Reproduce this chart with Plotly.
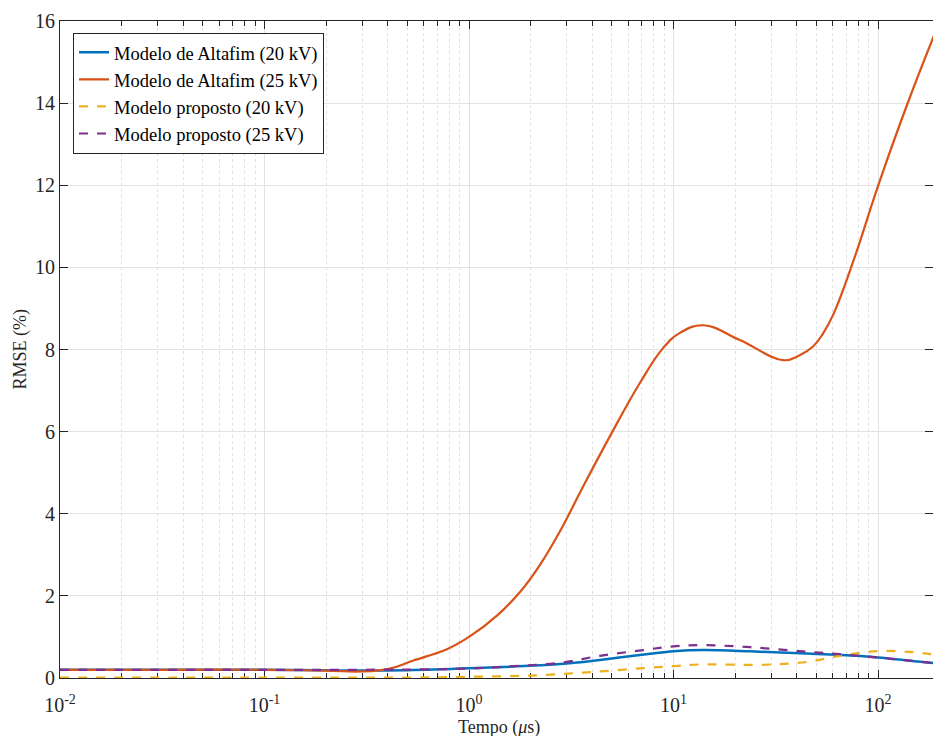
import plotly.graph_objects as go

# Altafim model (20 kV)
t_alt20 = [0.01, 0.1, 0.2, 0.3, 0.5, 1.0, 1.65, 2.79, 4.37, 7.7, 10, 14, 23.7, 41.6, 78.7, 100, 188]
y_alt20 = [0.20, 0.20, 0.19, 0.18, 0.19, 0.235, 0.28, 0.34, 0.44, 0.59, 0.65, 0.68, 0.65, 0.60, 0.54, 0.50, 0.36]

# Altafim model (25 kV)
t_alt25 = [0.01, 0.03, 0.1, 0.2, 0.3, 0.41, 0.53, 0.78, 1.0, 1.37, 1.78, 2.22, 2.79, 3.62, 4.99,
           6.86, 8.91, 10.8, 14, 21.1, 34.4, 41, 48.3, 54, 60.4, 75.7, 100, 138, 188]
y_alt25 = [0.20, 0.20, 0.20, 0.18, 0.16, 0.23, 0.42, 0.70, 1.00, 1.52, 2.10, 2.75, 3.58, 4.67, 5.97,
           7.19, 8.04, 8.41, 8.59, 8.23, 7.74, 7.85, 8.08, 8.40, 8.85, 10.15, 11.98, 13.93, 15.65]

# Proposed model (20 kV)
t_prop20 = [0.01, 0.1, 0.5, 1.0, 2.0, 3.6, 4.4, 7.1, 10, 13.5, 26.5, 38.5, 46.5, 54, 65, 75.6, 91, 106, 148, 188]
y_prop20 = [0.01, 0.01, 0.01, 0.03, 0.06, 0.13, 0.16, 0.24, 0.29, 0.33, 0.32, 0.36, 0.40, 0.46, 0.54, 0.59,
            0.64, 0.66, 0.63, 0.57]

# Proposed model (25 kV)
t_prop25 = [0.01, 0.1, 0.3, 1.0, 1.65, 2.79, 4.37, 7.1, 10, 14, 23.7, 44.8, 65, 100, 188]
y_prop25 = [0.20, 0.20, 0.20, 0.23, 0.29, 0.37, 0.54, 0.68, 0.77, 0.80, 0.75, 0.64, 0.58, 0.50, 0.36]

names = ["Modelo de Altafim (20 kV)", "Modelo de Altafim (25 kV)",
         "Modelo proposto (20 kV)", "Modelo proposto (25 kV)"]
colors = ["#0072BD", "#D95319", "#EDB120", "#7E2F8E"]

x_tickvals = [0.01, 0.1, 1, 10, 100]
x_ticktext = ["10<sup>-2</sup>", "10<sup>-1</sup>", "10<sup>0</sup>", "10<sup>1</sup>", "10<sup>2</sup>"]
y_tickvals = [0, 2, 4, 6, 8, 10, 12, 14, 16]
x_title = "Tempo (<i>μ</i>s)"
y_title = "RMSE (%)"

minor_vals = [m * 10.0 ** e for e in range(-2, 3) for m in range(2, 10)]

font = "Liberation Serif, Times New Roman, serif"

fig = go.Figure()
series = [(t_alt20, y_alt20, "solid", 2.5, 1.0), (t_alt25, y_alt25, "solid", 2.2, 1.2),
          (t_prop20, y_prop20, "dash", 2.2, 1.0), (t_prop25, y_prop25, "dash", 2.2, 1.0)]
for (t, y, dash, w, sm), name, c in zip(series, names, colors):
    fig.add_trace(go.Scatter(x=t, y=y, mode="lines", name=name,
                             line=dict(color=c, width=w, dash=dash, shape="spline", smoothing=sm)))

fig.update_layout(
    width=933, height=736,
    margin=dict(l=60, r=0, t=21, b=58, autoexpand=False),
    paper_bgcolor="white", plot_bgcolor="white",
    font=dict(family=font, color="#262626", size=18),
    showlegend=True,
    legend=dict(x=0.0149, y=0.982, xanchor="left", yanchor="top",
                bgcolor="white", bordercolor="#262626", borderwidth=1,
                font=dict(family=font, size=18.5, color="#000000"),
                tracegroupgap=0, itemwidth=30),
    annotations=[
        dict(text=x_title, xref="paper", yref="paper", x=0.503, y=0, yshift=-49,
             xanchor="center", yanchor="middle", showarrow=False,
             font=dict(family=font, size=18, color="#262626")),
        dict(text=y_title, xref="paper", yref="paper", x=0, xshift=-40, y=0.5,
             xanchor="center", yanchor="middle", showarrow=False, textangle=-90,
             font=dict(family=font, size=18, color="#262626")),
    ],
)

fig.update_xaxes(
    type="log", range=[-2, -2 + (933 - 60) / 204.5], automargin=False,
    tickvals=x_tickvals, ticktext=x_ticktext,
    ticks="inside", ticklen=8, tickcolor="#262626", ticklabelstandoff=9,
    showline=True, linecolor="#262626", linewidth=1, mirror="ticks",
    showgrid=True, gridcolor="#e2e2e2", gridwidth=1,
    zeroline=False,
    tickfont=dict(family=font, size=20, color="#262626"),
    minor=dict(tickvals=minor_vals, ticks="inside", ticklen=5, tickcolor="#262626",
               showgrid=True, gridcolor="#e0e0e0", griddash="dot", gridwidth=1),
    layer="below traces",
)
fig.update_yaxes(
    range=[0, 16], tickvals=y_tickvals, automargin=False,
    ticks="inside", ticklen=8, tickcolor="#262626",
    showline=True, linecolor="#262626", linewidth=1, mirror="ticks",
    showgrid=True, gridcolor="#e2e2e2", gridwidth=1,
    zeroline=False,
    tickfont=dict(family=font, size=20, color="#262626"),
    layer="below traces",
)

fig.write_html("out.html", config={"displayModeBar": False},
               post_script="document.body.style.margin='0';document.body.style.overflow='hidden';")
